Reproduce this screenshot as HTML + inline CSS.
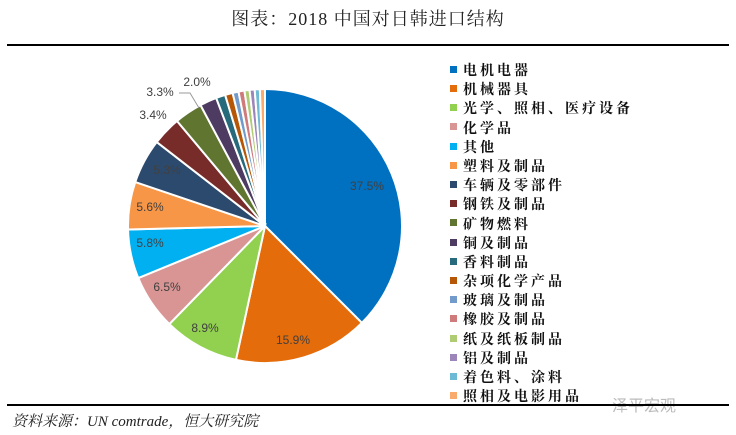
<!DOCTYPE html>
<html><head><meta charset="utf-8"><style>
body{margin:0;background:#fff;width:736px;height:435px;overflow:hidden;position:relative;font-family:"Liberation Serif","Noto Serif CJK SC",serif}
.t{position:absolute;left:0;width:736px;top:5px;text-align:center;font-size:18px;color:#222;letter-spacing:1px}
.l1{position:absolute;left:7px;width:722px;top:44px;height:2px;background:#000}
.l2{position:absolute;left:7px;width:722px;top:404px;height:2px;background:#000}
.src{position:absolute;left:12px;top:410px;font-size:15px;font-style:italic;color:#222}
.lg{position:absolute;left:450px;top:61px;font-size:14px;font-weight:bold;font-family:"Noto Serif CJK SC",serif;color:#111;letter-spacing:3px}
.lg div{height:19.2px;line-height:19.2px;white-space:nowrap}
.lg span{display:inline-block;width:7px;height:7px;margin-right:6px;vertical-align:middle;position:relative;top:-2px}
.wm{position:absolute;left:612px;top:392px;font-size:16px;color:#bbb;font-family:"Noto Sans CJK SC",sans-serif}
</style></head><body>
<div class="t">图表：2018 中国对日韩进口结构</div>
<div class="l1"></div>
<svg id="p" width="736" height="435" style="position:absolute;left:0;top:0"></svg>
<div class="lg" id="lg"></div>
<div class="wm">泽平宏观</div>
<div class="l2"></div>
<div class="src">资料来源：UN comtrade，恒大研究院</div>
<script>
var v=[37.5,15.9,8.9,6.5,5.8,5.6,5.3,3.4,3.3,2.0,1.1,0.9,0.7,0.7,0.6,0.6,0.6,0.6];
var c=["#0070C0","#E46C0A","#92D050","#D99594","#00B0F0","#F79646","#2C4A6E","#772C2A","#5F7530","#4D3B62","#276A7C","#B65708","#729ACA","#D07B7B","#AFCB74","#9C85B8","#6CBAD4","#F9AB6E"];
var n=["电机电器","机械器具","光学、照相、医疗设备","化学品","其他","塑料及制品","车辆及零部件","钢铁及制品","矿物燃料","铜及制品","香料制品","杂项化学产品","玻璃及制品","橡胶及制品","纸及纸板制品","铝及制品","着色料、涂料","照相及电影用品"];
var cx=265,cy=226,r=137,a=-Math.PI/2,s='';
for(var i=0;i<v.length;i++){var b=a+v[i]/100*2*Math.PI;
var x1=cx+r*Math.cos(a),y1=cy+r*Math.sin(a),x2=cx+r*Math.cos(b),y2=cy+r*Math.sin(b);
s+='<path d="M'+cx+','+cy+'L'+x1+','+y1+'A'+r+','+r+' 0 '+(b-a>Math.PI?1:0)+' 1 '+x2+','+y2+'Z" fill="'+c[i]+'" stroke="#fff" stroke-width="2"/>';a=b;}
var L=[["37.5%",367,190],["15.9%",293,344],["8.9%",205,332],["6.5%",167,291],["5.8%",150,247],["5.6%",150,211],["5.3%",167,174],["3.4%",153,119],["3.3%",160,96],["2.0%",197,86]];
L.forEach(function(l){s+='<text x="'+l[1]+'" y="'+l[2]+'" text-anchor="middle" font-family="Liberation Sans,sans-serif" font-size="12" fill="#404040">'+l[0]+'</text>';});
s+='<polyline points="179,93 190,93 199,108" fill="none" stroke="#999" stroke-width="1"/>';
document.getElementById('p').innerHTML=s;
var h='';for(var i=0;i<n.length;i++)h+='<div><span style="background:'+c[i]+'"></span>'+n[i]+'</div>';
document.getElementById('lg').innerHTML=h;
</script>
</body></html>
